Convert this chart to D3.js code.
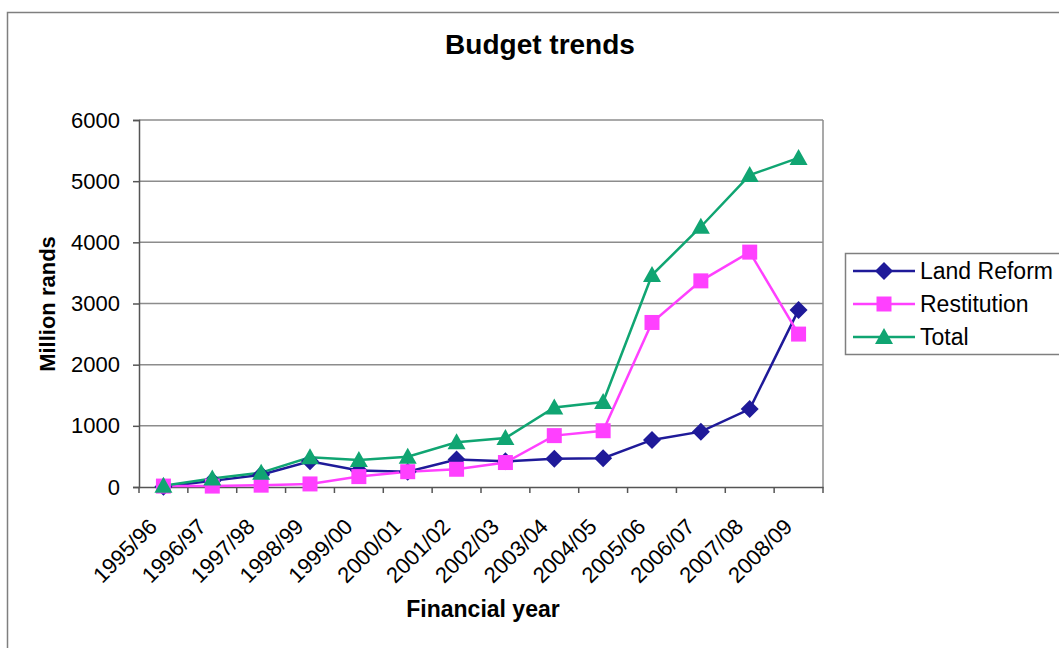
<!DOCTYPE html>
<html>
<head>
<meta charset="utf-8">
<script src="https://cdn.jsdelivr.net/npm/d3@7"></script>
<style>
  body { margin: 0; background: #fff; }
  text { font-family: "Liberation Sans", Arial, sans-serif; fill: #000; }
</style>
</head>
<body>
<div id="chart"></div>
<script>
// data
let years = ["1995/96", "1996/97", "1997/98", "1998/99", "1999/00", "2000/01", "2001/02",
  "2002/03", "2003/04", "2004/05", "2005/06", "2006/07", "2007/08", "2008/09"];
let landReform = [5, 100, 200, 420, 270, 250, 450, 420, 460, 470, 770, 905, 1275, 2895];
let restitution = [15, 15, 30, 50, 170, 250, 290, 400, 840, 920, 2690, 3370, 3840, 2500];
let total = [20, 140, 235, 485, 440, 495, 730, 800, 1300, 1390, 3465, 4255, 5100, 5380];
let yTicks = [0, 1000, 2000, 3000, 4000, 5000, 6000];

let seriesNames = ["Land Reform", "Restitution", "Total"];
let seriesColors = ["#1f1a99", "#ff40ff", "#10a572"];
let seriesShapes = ["diamond", "square", "triangle"];

let svgWidth = 1059;
let svgHeight = 648;

let margin = { top: 120, left: 139 };
let width = 684;
let height = 367;

let svg = d3.select("#chart")
  .append("svg")
  .attr("width", svgWidth)
  .attr("height", svgHeight);

// outer frame (runs off the right and bottom edges)
svg.append("rect")
  .attr("x", 7.5).attr("y", 12.5)
  .attr("width", 1100).attr("height", 700)
  .attr("fill", "none")
  .attr("stroke", "#7f7f7f")
  .attr("stroke-width", 1.5);

svg.append("text")
  .attr("x", 540).attr("y", 54)
  .attr("text-anchor", "middle")
  .style("font-size", "28px")
  .style("font-weight", "bold")
  .text("Budget trends");

let chartGroup = svg.append("g")
  .attr("transform", `translate(${margin.left}, ${margin.top})`);

let x = d3.scaleBand().domain(years).range([0, width]);
let y = d3.scaleLinear().domain([0, 6000]).range([height, 0]);

// gridlines
chartGroup.append("g")
  .selectAll("line")
  .data(yTicks.slice(1))
  .enter()
  .append("line")
  .attr("x1", 0).attr("x2", width)
  .attr("y1", d => y(d)).attr("y2", d => y(d))
  .attr("stroke", "#8c8c8c")
  .attr("stroke-width", 1.5);

// plot frame right side
chartGroup.append("line")
  .attr("x1", width).attr("x2", width)
  .attr("y1", 0).attr("y2", height)
  .attr("stroke", "#8c8c8c")
  .attr("stroke-width", 1.5);

// y axis
let leftAxis = d3.axisLeft(y).tickValues(yTicks).tickFormat(d3.format("d")).tickSize(6).tickPadding(13);
let yAxisG = chartGroup.append("g").call(leftAxis);
yAxisG.attr("font-family", null);
yAxisG.select(".domain").attr("stroke", "#555").attr("stroke-width", 1.5);
yAxisG.selectAll(".tick line").attr("stroke", "#555").attr("stroke-width", 1.5);
yAxisG.selectAll("text")
  .style("font-size", "22px");

// x axis: ticks at category boundaries
let bottomAxis = d3.axisBottom(x).tickSize(0).tickFormat("");
let xAxisG = chartGroup.append("g")
  .attr("transform", `translate(0, ${height})`)
  .call(bottomAxis);
xAxisG.select(".domain").attr("stroke", "#555").attr("stroke-width", 1.5);

chartGroup.append("g")
  .selectAll("line")
  .data(years.concat(["end"]))
  .enter()
  .append("line")
  .attr("x1", (d, i) => i * x.bandwidth())
  .attr("x2", (d, i) => i * x.bandwidth())
  .attr("y1", height).attr("y2", height + 6)
  .attr("stroke", "#555")
  .attr("stroke-width", 1.5);

chartGroup.append("g")
  .selectAll("text")
  .data(years)
  .enter()
  .append("text")
  .attr("transform", d => `translate(${x(d) + x.bandwidth() / 2 - 5}, ${height + 41}) rotate(-45)`)
  .attr("text-anchor", "end")
  .style("font-size", "22px")
  .text(d => d);

// axis titles
svg.append("text")
  .attr("x", 483).attr("y", 617)
  .attr("text-anchor", "middle")
  .style("font-size", "23px")
  .style("font-weight", "bold")
  .text("Financial year");

svg.append("text")
  .attr("transform", "translate(55, 304) rotate(-90)")
  .attr("text-anchor", "middle")
  .style("font-size", "22px")
  .style("font-weight", "bold")
  .text("Million rands");

// marker shapes
function markerPath(shape) {
  if (shape === "diamond") return "M0,-9L9,0L0,9L-9,0Z";
  if (shape === "square") return "M-7.5,-7.5H7.5V7.5H-7.5Z";
  return "M0,-9L9,7L-9,7Z";
}

let allSeries = [landReform, restitution, total];
let line = d3.line()
  .x((d, i) => x(years[i]) + x.bandwidth() / 2)
  .y(d => y(d));

allSeries.forEach(function(values, s) {
  chartGroup.append("path")
    .datum(values)
    .attr("d", line)
    .attr("fill", "none")
    .attr("stroke", seriesColors[s])
    .attr("stroke-width", 2.5);
});

allSeries.forEach(function(values, s) {
  chartGroup.append("g")
    .selectAll("path")
    .data(values)
    .enter()
    .append("path")
    .attr("d", markerPath(seriesShapes[s]))
    .attr("transform", (d, i) => `translate(${x(years[i]) + x.bandwidth() / 2}, ${y(d)})`)
    .attr("fill", seriesColors[s]);
});

// legend
let legend = svg.append("g");
legend.append("rect")
  .attr("x", 845.5).attr("y", 253.5)
  .attr("width", 250).attr("height", 101)
  .attr("fill", "#fff")
  .attr("stroke", "#7f7f7f")
  .attr("stroke-width", 1.5);

seriesNames.forEach(function(name, s) {
  let ly = 271 + s * 33;
  legend.append("line")
    .attr("x1", 853).attr("x2", 915)
    .attr("y1", ly).attr("y2", ly)
    .attr("stroke", seriesColors[s])
    .attr("stroke-width", 2.5);
  legend.append("path")
    .attr("d", markerPath(seriesShapes[s]))
    .attr("transform", `translate(884, ${ly})`)
    .attr("fill", seriesColors[s]);
  legend.append("text")
    .attr("x", 920).attr("y", ly + 8)
    .style("font-size", "23px")
    .text(name);
});
</script>
</body>
</html>
